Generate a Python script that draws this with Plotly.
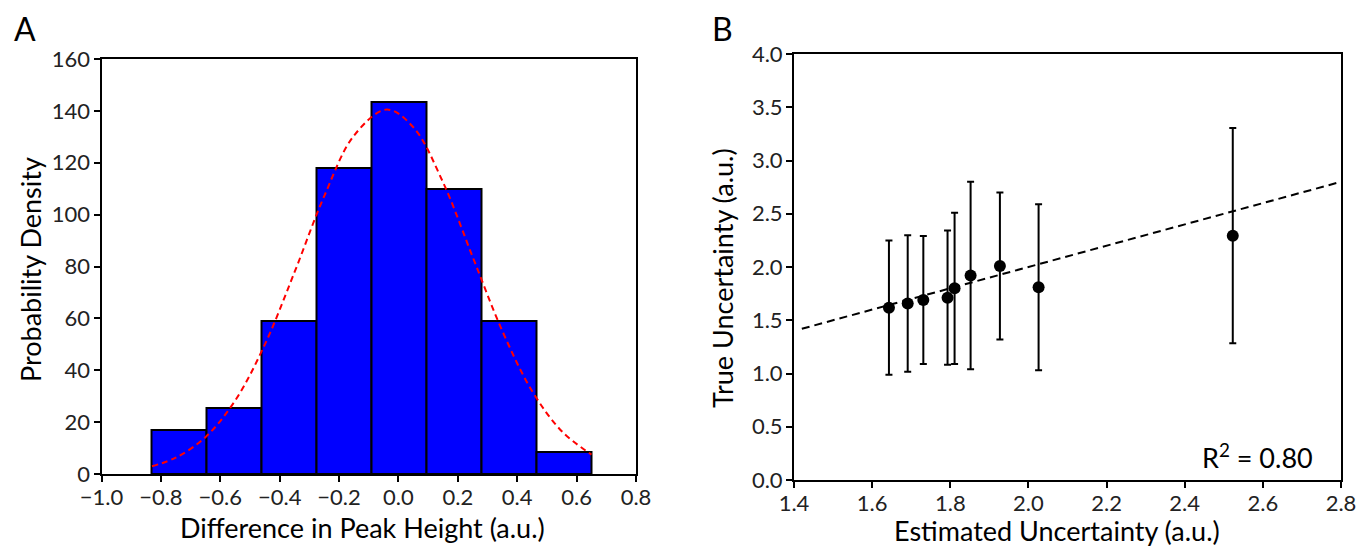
import plotly.graph_objects as go

# ---- Panel A data: histogram of differences in peak height ----
bin_edges = [-0.83, -0.645, -0.46, -0.275, -0.09, 0.095, 0.28, 0.465, 0.65]
bin_density = [16.8, 25.3, 59.0, 118.0, 143.5, 109.7, 59.0, 8.3]

# Gaussian fit curve
fit_x = [-0.83, -0.75, -0.65, -0.55, -0.45, -0.35, -0.25, -0.15, -0.04,
         0.05, 0.15, 0.25, 0.35, 0.45, 0.55, 0.65]
fit_y = [3.0, 6.3, 14.2, 28.3, 49.9, 77.8, 107.1, 130.4, 140.5,
         133.7, 112.5, 83.7, 55.1, 32.0, 16.5, 7.5]

# ---- Panel B data: estimated vs true uncertainty ----
est_unc = [1.643, 1.691, 1.731, 1.793, 1.811, 1.852, 1.927, 2.026, 2.523]
true_unc = [1.618, 1.657, 1.690, 1.712, 1.800, 1.920, 2.010, 1.810, 2.294]
true_err = [0.63, 0.64, 0.60, 0.63, 0.71, 0.88, 0.69, 0.78, 1.01]

line_x = [1.42, 2.80]
line_y = [1.42, 2.80]

xA_ticks = [-1.0, -0.8, -0.6, -0.4, -0.2, 0.0, 0.2, 0.4, 0.6, 0.8]
yA_ticks = [0, 20, 40, 60, 80, 100, 120, 140, 160]
xB_ticks = [1.4, 1.6, 1.8, 2.0, 2.2, 2.4, 2.6, 2.8]
yB_ticks = [0.0, 0.5, 1.0, 1.5, 2.0, 2.5, 3.0, 3.5, 4.0]

FONT = "Lato"
W, H = 1358, 546

centers = [(bin_edges[i] + bin_edges[i + 1]) / 2 for i in range(len(bin_density))]
widths = [bin_edges[i + 1] - bin_edges[i] for i in range(len(bin_density))]

fig = go.Figure()
fig.add_trace(go.Bar(x=centers, y=bin_density, width=widths,
                     marker=dict(color="#0000FF", line=dict(color="black", width=2)),
                     xaxis="x", yaxis="y", showlegend=False))
fig.add_trace(go.Scatter(x=fit_x, y=fit_y, mode="lines",
                         line=dict(color="#FF0000", width=2, dash="6px,4px", shape="spline"),
                         xaxis="x", yaxis="y", showlegend=False))

fig.add_trace(go.Scatter(x=line_x, y=line_y, mode="lines",
                         line=dict(color="black", width=2, dash="8px,5px"),
                         xaxis="x2", yaxis="y2", showlegend=False))
fig.add_trace(go.Scatter(x=est_unc, y=true_unc, mode="markers",
                         marker=dict(color="black", size=12),
                         error_y=dict(type="data", array=true_err, color="black",
                                      thickness=2, width=3.5),
                         xaxis="x2", yaxis="y2", showlegend=False))

def px_x(p):
    return p / W

def px_y(p):
    return 1 - p / H

axis_common = dict(showline=True, linecolor="black", linewidth=2, mirror=True,
                   ticks="outside", ticklen=6, tickwidth=2, tickcolor="black",
                   showgrid=False, zeroline=False, automargin=False,
                   tickfont=dict(family=FONT, size=22, color="#222"))

fig.update_layout(
    width=W, height=H,
    margin=dict(l=0, r=0, t=0, b=0),
    paper_bgcolor="white", plot_bgcolor="white",
    bargap=0,
    xaxis=dict(domain=[px_x(101.5), px_x(636)], range=[-1.0, 0.8],
               tickvals=xA_ticks, tickformat=".1f", anchor="y",
               ticklabelstandoff=-3, **axis_common),
    yaxis=dict(domain=[px_y(474), px_y(59)], range=[0, 160],
               tickvals=yA_ticks, anchor="x", ticklabelstandoff=-1, **axis_common),
    xaxis2=dict(domain=[px_x(794), px_x(1341)], range=[1.4, 2.8],
                tickvals=xB_ticks, tickformat=".1f", anchor="y2",
                ticklabelstandoff=-3, **axis_common),
    yaxis2=dict(domain=[px_y(480), px_y(54)], range=[0, 4.0],
                tickvals=yB_ticks, tickformat=".1f", anchor="x2",
                ticklabelstandoff=-1, **axis_common),
)

ann_font = dict(family=FONT, size=27, color="black")
annotations = [
    dict(text="A", x=px_x(25), y=px_y(28), font=dict(family=FONT, size=32, color="black")),
    dict(text="B", x=px_x(722), y=px_y(28), font=dict(family=FONT, size=32, color="black")),
    dict(text="Difference in Peak Height (a.u.)", x=px_x(362), y=px_y(527), font=ann_font),
    dict(text="Probability Density", x=px_x(30), y=px_y(270), font=ann_font, textangle=-90),
    dict(text="Estimated Uncertainty (a.u.)", x=px_x(1057), y=px_y(530), font=ann_font),
    dict(text="True Uncertainty (a.u.)", x=px_x(722), y=px_y(278), font=ann_font, textangle=-90),
    dict(text="R<sup>2</sup> = 0.80", x=px_x(1257), y=px_y(456),
         font=dict(family=FONT, size=27, color="black")),
]
for a in annotations:
    a.update(xref="paper", yref="paper", showarrow=False, xanchor="center", yanchor="middle")
fig.update_layout(annotations=annotations)

fig.write_html("out.html")
